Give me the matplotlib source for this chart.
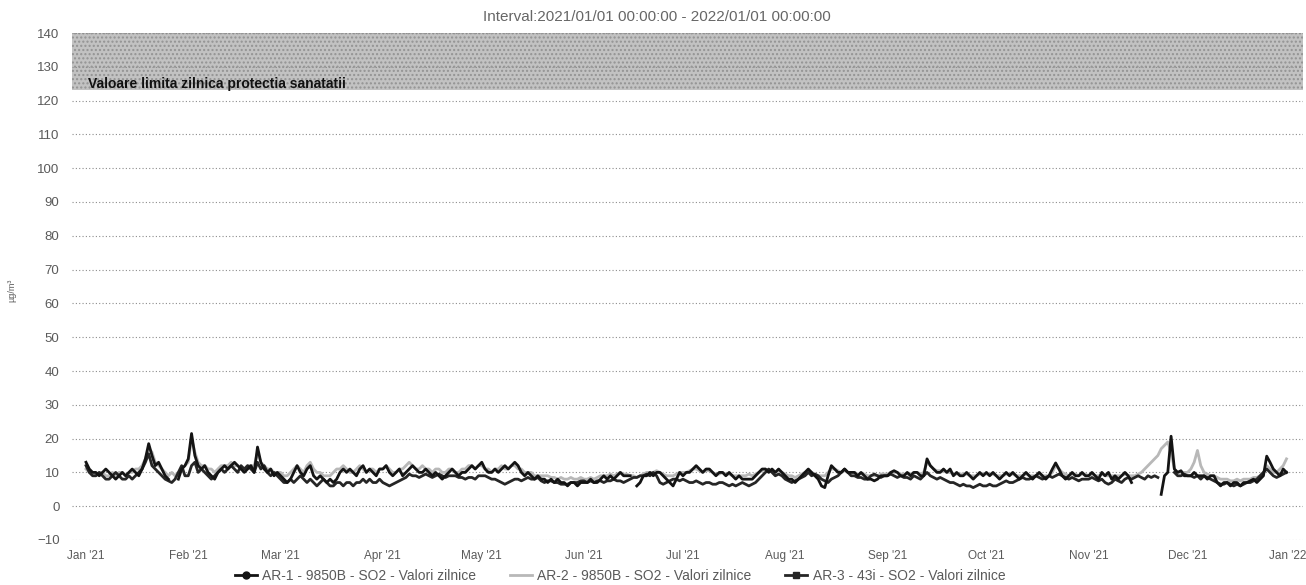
import numpy as np
import pandas as pd
import matplotlib
matplotlib.use("Agg")
import matplotlib.pyplot as plt
import matplotlib.dates as mdates
from matplotlib.lines import Line2D

plt.rcParams['font.family'] = ['Liberation Sans', 'DejaVu Sans']
plt.rcParams['hatch.linewidth'] = 1.0
nan = np.nan

title_text = "Interval:2021/01/01 00:00:00 - 2022/01/01 00:00:00"
band_label = "Valoare limita zilnica protectia sanatatii"
band_low, band_high = 123, 140
y_label = "µg/m³"
series_names = ["AR-1 - 9850B - SO2 - Valori zilnice",
                "AR-2 - 9850B - SO2 - Valori zilnice",
                "AR-3 - 43i - SO2 - Valori zilnice"]
start_date = "2021-01-01"

ar1 = [
    # Jan
    13, 11, 10, 10, 9, 10, 11, 10, 9, 8, 9, 10, 9, 10, 11, 10, 9, 11, 14, 18.5,
    15, 12, 13, 11, 9, 8, nan, nan, 8, 11, 12,
    # Feb
    14, 21.5, 15, 12, 11, 12, 10, 9, 8, 10, 11, 12, 11, 12, 13, 12, 11, 10, 11, 12,
    10, 17.5, 13, 11, 10, 11, 9, 10,
    # Mar
    9, 8, 7, 8, 10, 12, 10, 9, 11, 12, 9, 8, 9, 8, 7, 8, 7, 8, 10, 11,
    10, 11, 10, 9, 11, 12, 10, 11, 10, 9, 11,
    # Apr
    11, 12, 10, 9, 10, 11, 9, 10, 11, 12, 11, 10, 10, 11, 10, 9, 10, 9, 8, 9,
    10, 11, 10, 9, 10, 10, 11, 12, 11, 12,
    # May
    13, 11, 10, 10, 11, 10, 11, 12, 11, 12, 13, 12, 10, 9, 10, 9, 8, 9, 8, 8,
    7, 8, 7, 8, 7, 7, 6, 7, 7, 6, 7,
    # Jun
    7, 7, 8, 7, 7, 8, 9, 8, 9, 8, 9, 10, 9, 9, 9, nan, 6, 7, 9, 9,
    10, 9, 10, 10, 9, 8, 7, 6, 8, 10,
    # Jul
    9, 10, 10, 11, 12, 11, 10, 11, 11, 10, 9, 10, 10, 9, 10, 9, 8, 9, 8, 8,
    8, 8, 9, 10, 11, 11, 10, 11, 10, 11, 10,
    # Aug
    9, 8, 8, 7, 8, 9, 10, 11, 10, 9, 8, 6, 5.5, 9, 12, 11, 10, 10, 11, 10,
    10, 10, 9, 10, 9, 8, 8, 7.5, 8, 9, 9,
    # Sep
    9, 10, 10.5, 10, 9, 9, 10, 9, 10, 10, 9, 9, 14, 12, 11, 10, 10, 11, 10, 11,
    9, 10, 9, 9, 10, 9, 8, 9, 10, 9,
    # Oct
    10, 9, 10, 9, 8, 9, 10, 9, 10, 9, 8, 9, 10, 9, 8, 9, 10, 9, 8, 9,
    11, 12.8, 11, 9, 8, 9, 10, 9, 9, 10, 9,
    # Nov
    9, 10, 9, 8, 10, 9, 10, 8, 9, 8, 9, 10, 9, 7, nan, nan, nan, nan, nan, nan,
    nan, nan, 3.5, 9, 10, 20.7, 11, 10, 10.5, 9,
    # Dec
    9, 9, 10, 9, 9, 9, 8, 9, 9, 7, 6, 7, 7, 6, 7, 7, 6, 7, 7, 7.5,
    8, 7, 8, 9, 14.8, 13, 11, 10, 9, 11, 10,
]

ar2 = [
    # Jan
    11, 10, 10, 9, 10, 10, 9, 9, 10, 9, 10, 10, 9, 10, 10, 11, 11, 12, 14, 17,
    16, 13, 12, 11, 10, 9, 10, 9, 10, 11, 12,
    # Feb
    13, 20, 16, 13, 12, 12, 11, 11, 10, 11, 12, 12, 12, 13, 12, 12, 11, 11, 12, 12,
    12, 16, 13, 12, 11, 11, 10, 10,
    # Mar
    10, 9, 9, 10, 11, 12, 11, 10, 12, 13, 11, 10, 10, 9, 9, 9, 10, 11, 11, 12,
    11, 10, 10, 11, 12, 11, 10, 11, 11, 10, 11,
    # Apr
    11, 12, 11, 10, 10, 11, 11, 12, 13, 12, 11, 11, 12, 11, 11, 10, 11, 11, 10, 10,
    11, 11, 10, 10, 11, 11, 12, 12, 11, 12,
    # May
    12, 11, 11, 10, 11, 11, 12, 11, 11, 12, 12, 11, 11, 10, 10, 10, 9, 9, 9, 9,
    9, 8.5, 8.5, 8, 8.5, 8, 8, 8.5, 8, 8, 8.5,
    # Jun
    8, 8, 8.5, 8, 8.5, 9, 9, 9, 9.5, 9, 9.5, 10, 9.5, 9.5, 9, 9, 8.5, 9, 9.5, 10,
    10, 10, 10.5, 10, 9.5, 9, 9, 9, 9.5, 10,
    # Jul
    10, 10, 10.5, 11, 11, 10.5, 10, 10.5, 10.5, 10, 9.5, 9.5, 10, 9.5, 9.5, 9, 9, 9, 9, 9,
    9.5, 9, 9.5, 10, 10.5, 11, 10.5, 10.5, 10, 10.5, 10,
    # Aug
    9.5, 9, 9, 8.5, 9, 9.5, 10, 10.5, 10, 9.5, 9, 9, 9, 10, 11, 11, 10.5, 10, 10.5, 10,
    10, 10, 9.5, 9.5, 9.5, 9, 9, 9, 9, 9.5, 9.5,
    # Sep
    9.5, 10, 10, 10, 9.5, 9.5, 9.5, 9.5, 10, 10, 9.5, 10, 13, 12, 11, 10.5, 10.5, 10.5, 10, 10,
    9.5, 9.5, 9.5, 9.5, 9.5, 9, 9, 9, 9.5, 9.5,
    # Oct
    9.5, 9.5, 9.5, 9, 9, 9, 9.5, 9.5, 9.5, 9, 9, 9, 9.5, 9, 9, 9, 9.5, 9, 9, 9,
    10, 12, 11, 10, 9.5, 9, 9.5, 9.5, 9, 9.5, 9.5,
    # Nov
    9, 9.5, 9, 9, 9.5, 9, 9, 9, 9, 9, 9, 9.5, 9, 9, 9, 9.5, 10, 11, 12, 13,
    14, 15, 17, 18, 19, 16, 11, 10, 10, 10,
    # Dec
    10, 11, 13, 16.5, 12, 10, 9.5, 9, 9, 8.5, 8, 8, 8, 7.5, 7.5, 8, 7.5, 8, 8, 8,
    8.5, 8.5, 9, 10, 12, 11, 10, 10, 11, 12, 14,
]

ar3 = [
    # Jan
    12, 10, 9, 9, 10, 9, 8, 8, 9, 10, 9, 8, 8, 9, 8, 9, 10, 11, 13, 15.5,
    12, 11, 10, 9, 8, 7.5, 7, 8, 10, 12, 9,
    # Feb
    9, 12, 13, 10, 11, 10, 9, 8, 9, 10, 11, 10, 11, 12, 11, 10, 12, 11, 12, 11,
    10, 13, 11, 12, 10, 9, 10, 9,
    # Mar
    8, 7, 7, 8, 7, 8, 9, 8, 7, 8, 7, 6, 7, 8, 7, 6, 6, 7, 7, 6,
    7, 7, 6, 7, 7, 8, 7, 8, 7, 7, 8,
    # Apr
    7, 6.5, 6, 6.5, 7, 7.5, 8, 8.5, 9.5, 9, 9, 8.5, 9, 9.5, 9, 8.5, 9, 9.5, 9, 8.5,
    9, 9, 9, 8.5, 8.5, 8, 8.5, 8.5, 8, 9,
    # May
    9, 9, 8.5, 8, 8, 7.5, 7, 6.5, 7, 7.5, 8, 8, 7.5, 8, 8.5, 8, 8, 8.5, 7.5, 7,
    7.5, 7.5, 7, 7, 6.5, 6.5, 6.5, 7, 7, 7, 7.5,
    # Jun
    7.5, 7, 7.5, 7, 7.5, 7.5, 7, 7.5, 7.5, 8, 7.5, 7.5, 7, 7.5, 8, 8.5, 8.5, 9, 9, 9.5,
    9, 10, 9, 7, 6.5, 7, 7.5, 8, 8, 7.5,
    # Jul
    8, 7.5, 7, 7, 7.5, 7, 6.5, 7, 7, 6.5, 6.5, 7, 7, 6.5, 6, 6.5, 6, 6.5, 7, 6.5,
    6, 6.5, 7, 8, 9, 10, 11, 10, 9, 9.5, 9,
    # Aug
    8, 7.5, 7, 7.5, 8, 8.5, 9, 10, 9, 9.5, 9, 8, 7.5, 7, 8, 8.5, 9, 10, 11, 10,
    9, 9, 8.5, 8.5, 8, 8, 9, 9.5, 9, 8.5, 9,
    # Sep
    9, 9.5, 9, 8.5, 9, 8.5, 8.5, 8, 9, 8.5, 8, 9, 10, 9, 8.5, 8, 8.5, 8, 7.5, 7,
    7, 6.5, 6, 6.5, 6, 6, 5.5, 6, 6.5, 6,
    # Oct
    6, 6.5, 6, 6, 6.5, 7, 7.5, 7, 7, 7.5, 8, 8.5, 8, 8, 8.5, 9, 8.5, 8, 8.5, 9,
    8.5, 9, 9.5, 9, 8.5, 8, 8.5, 8, 7.5, 8, 8,
    # Nov
    8, 8.5, 8, 7.5, 8, 7, 6.5, 7, 8, 7.5, 7, 8, 8.5, 8, 8.5, 9, 8.5, 8, 9, 8.5,
    9, 8.5, nan, nan, nan, nan, 10, 9, 9, 9.5,
    # Dec
    9, 9, 8.5, 9, 8, 9, 8.5, 8, 7.5, 7, 6.5, 6.5, 7, 6.5, 6, 6.5, 6, 6.5, 7, 7,
    7.5, 8, 9, 10, 11, 10, 9, 8.5, 9, 9.5, 10,
]

dates1 = pd.date_range(start_date, periods=len(ar1), freq="D")
dates2 = pd.date_range(start_date, periods=len(ar2), freq="D")
dates3 = pd.date_range(start_date, periods=len(ar3), freq="D")

W, H = 1306, 585
fig = plt.figure(figsize=(W / 100, H / 100), dpi=100)
ax = fig.add_axes([72 / W, 1 - 540 / H, (1303 - 72) / W, (540 - 33) / H])

grey_txt = "#5a5a5a"
ax.set_ylim(-10, 140)
ax.set_yticks(np.arange(-10, 141, 10))
ax.set_xlim(pd.Timestamp("2020-12-27 18:00"), pd.Timestamp("2022-01-05"))

ax.axhspan(band_low, band_high, facecolor="#c2c2c2", edgecolor="#939393",
           hatch="....", linewidth=0, zorder=0)
ax.text(pd.Timestamp("2021-01-01 12:00"), band_low + 1.8, band_label,
        fontsize=10, color="#111111", ha="left", va="center", fontweight="bold")

ax.grid(axis="y", color="#8c8c8c", linestyle=(0, (1, 2)), linewidth=0.8, zorder=1)
ax.grid(axis="x", visible=False)
for s in ax.spines.values():
    s.set_visible(False)
ax.tick_params(axis="y", length=0, labelsize=9.5, labelcolor=grey_txt, pad=9)
ax.tick_params(axis="x", length=0, labelsize=8.5, labelcolor=grey_txt, pad=7)
ax.xaxis.set_major_locator(mdates.MonthLocator())
ax.xaxis.set_major_formatter(mdates.DateFormatter("%b '%y"))

ax.plot(dates2, ar2, color="#b8b8b8", lw=2.0, zorder=3)
ax.plot(dates3, ar3, color="#262626", lw=2.0, zorder=4)
ax.plot(dates1, ar1, color="#141414", lw=2.0, zorder=5)

fig.canvas.draw()
last_label = ax.get_xticklabels()[-1]
last_label.set_horizontalalignment("right")
last_label.set_x(last_label.get_position()[0])
import matplotlib.transforms as mtransforms
last_label.set_transform(last_label.get_transform() +
                         mtransforms.ScaledTranslation(17 / 100, 0, fig.dpi_scale_trans))

fig.text(657 / W, 1 - 17 / H, title_text, fontsize=11, color="#666666",
         ha="center", va="center")
fig.text(12 / W, 1 - 290 / H, y_label, rotation=90, fontsize=6.5,
         color=grey_txt, ha="center", va="center")

handles = [
    Line2D([], [], color="#141414", lw=2.0, marker="o", markersize=5),
    Line2D([], [], color="#b8b8b8", lw=2.0),
    Line2D([], [], color="#262626", lw=2.0, marker="s", markersize=5),
]
leg = fig.legend(handles, series_names, loc="center", ncol=3,
                 bbox_to_anchor=(620 / W, 1 - 576 / H), frameon=False, fontsize=10,
                 handlelength=1.6, handletextpad=0.4, columnspacing=2.4,
                 borderpad=0, borderaxespad=0)
for t in leg.get_texts():
    t.set_color(grey_txt)

fig.savefig("out.png", dpi=100)
